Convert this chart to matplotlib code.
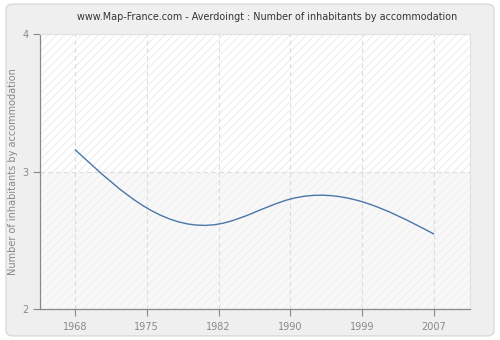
import numpy as np
import matplotlib
matplotlib.use("Agg")
import matplotlib.pyplot as plt
from matplotlib.patches import FancyBboxPatch, Rectangle, PathPatch
from matplotlib.path import Path

years = ["1968", "1975", "1982", "1990", "1999", "2007"]
inhabitants = [3.16, 2.735, 2.618, 2.80, 2.78, 2.545]
y_ticks = [2, 3, 4]

title = "www.Map-France.com - Averdoingt : Number of inhabitants by accommodation"
y_label = "Number of inhabitants by accommodation"


def natural_spline_path(x, y):
    """Bezier path of a natural cubic spline through (x, y)."""
    x = np.asarray(x, float)
    y = np.asarray(y, float)
    n = len(x)
    h = np.diff(x)
    A = np.zeros((n, n))
    b = np.zeros(n)
    A[0, 0] = A[-1, -1] = 1.0
    for i in range(1, n - 1):
        A[i, i - 1] = h[i - 1]
        A[i, i] = 2 * (h[i - 1] + h[i])
        A[i, i + 1] = h[i]
        b[i] = 3 * ((y[i + 1] - y[i]) / h[i] - (y[i] - y[i - 1]) / h[i - 1])
    c = np.linalg.solve(A, b)
    verts = [(x[0], y[0])]
    codes = [Path.MOVETO]
    for i in range(n - 1):
        slope = (y[i + 1] - y[i]) / h[i] - h[i] * (2 * c[i] + c[i + 1]) / 3
        d0 = slope
        d1 = slope + 2 * c[i] * h[i] + (c[i + 1] - c[i]) * h[i]
        verts += [(x[i] + h[i] / 3, y[i] + d0 * h[i] / 3),
                  (x[i + 1] - h[i] / 3, y[i + 1] - d1 * h[i] / 3),
                  (x[i + 1], y[i + 1])]
        codes += [Path.CURVE4] * 3
    return Path(verts, codes)


plt.rcParams["hatch.linewidth"] = 0.7
plt.rcParams["font.family"] = ["DejaVu Sans"]

fig = plt.figure(figsize=(5.0, 3.4), dpi=100)
fig.patch.set_facecolor("white")
panel = FancyBboxPatch((0.012, 0.012), 0.976, 0.976,
                       boxstyle="round,pad=0,rounding_size=0.015",
                       transform=fig.transFigure,
                       facecolor="#efefef", edgecolor="#dadada",
                       linewidth=1.0, zorder=-10)
fig.patches.append(panel)

ax = fig.add_axes([0.08, 0.091, 0.86, 0.809])
ax.set_zorder(1)
xpos = np.arange(len(years))
ax.set_xlim(-0.487, len(years) - 0.5)
ax.set_ylim(y_ticks[0], y_ticks[-1])
ax.set_facecolor("white")

# alternating hatched bands between horizontal grid lines
band_faces = ["#f8f8f8", "#ffffff"]
band_hatches = ["#f0f0f0", "#ebebeb"]
for i in range(len(y_ticks) - 1):
    ax.add_patch(Rectangle((-1, y_ticks[i]), len(years) + 2, y_ticks[i + 1] - y_ticks[i],
                           facecolor=band_faces[i % 2], edgecolor=band_hatches[i % 2],
                           hatch="////", linewidth=0, zorder=0))

for xp in xpos:
    ax.axvline(xp, color="#dcdcdc", linestyle=(0, (4, 3)), linewidth=0.8, zorder=1)
for yv in y_ticks[1:-1]:
    ax.axhline(yv, color="#dcdcdc", linestyle=(0, (4, 3)), linewidth=0.8, zorder=1)

ax.add_patch(PathPatch(natural_spline_path(xpos, inhabitants), facecolor="none",
                       edgecolor="#4a76a8", linewidth=1.0, zorder=3))

ax.set_xticks(xpos)
ax.set_xticklabels(years)
ax.set_yticks(y_ticks)
ax.tick_params(colors="#888888", labelsize=7, length=5, width=0.8)
ax.tick_params(axis="x", pad=4)

for side in ["left", "bottom"]:
    ax.spines[side].set_color("#888888")
    ax.spines[side].set_linewidth(0.9)
for side in ["top", "right"]:
    ax.spines[side].set_color("#e2e2e2")
    ax.spines[side].set_linewidth(0.9)

ax.set_ylabel(y_label, color="#888888", fontsize=7, labelpad=3)
fig.text(0.534, 0.95, title, ha="center", va="center", fontsize=6.9, color="#333333")

fig.savefig("out.png", dpi=100, facecolor=fig.get_facecolor())
